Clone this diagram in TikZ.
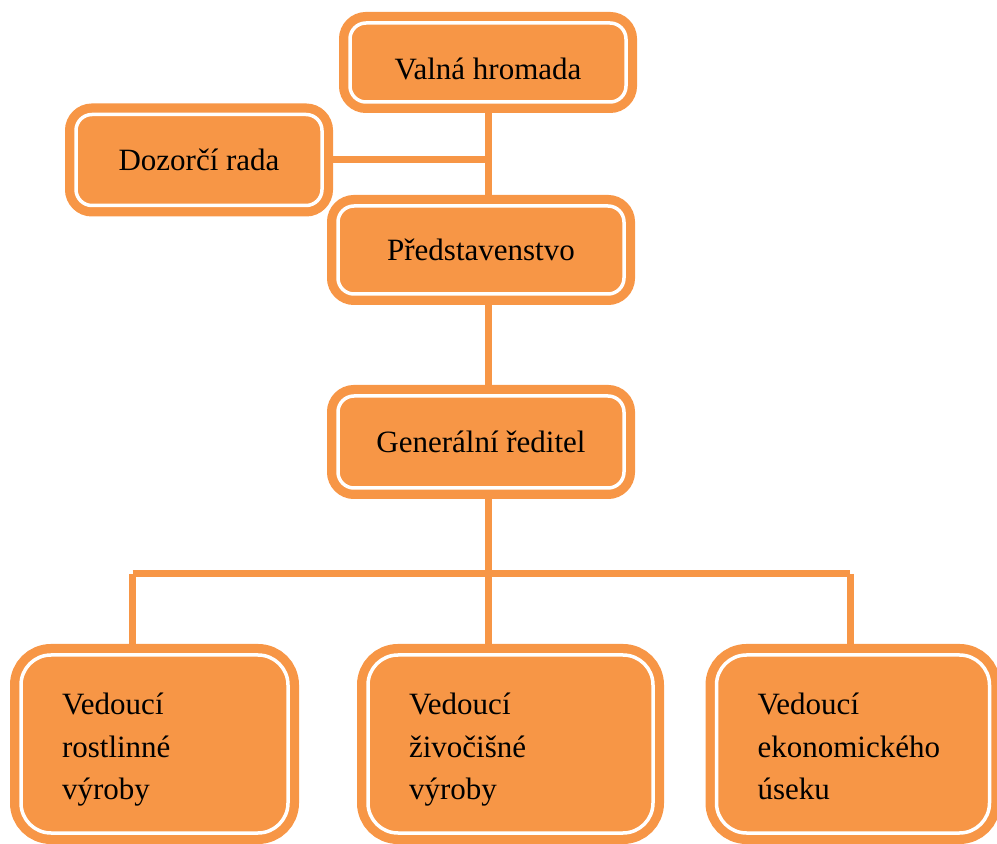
\documentclass[tikz,border=0pt]{standalone}
\usepackage{fontspec}
\setmainfont{Liberation Serif}
\usetikzlibrary{backgrounds}
\definecolor{boxorange}{HTML}{F79646}
\begin{document}
\begin{tikzpicture}[x=0.5pt,y=-0.5pt,
  orgbox/.style={rounded corners=8pt, fill=boxorange, draw=white, line width=1.75pt,
     preaction={draw=boxorange, line width=11pt}, inner sep=0pt,
     font=\fontsize{15.5}{21.25}\selectfont, text=black},
  topbox/.style={orgbox, text height=10.5pt, text depth=0pt},
  botbox/.style={orgbox, rounded corners=15pt, minimum height=89pt, align=left, inner xsep=20.5pt,
     text height=12pt, text depth=41pt},
  conn/.style={draw=boxorange, line width=3.5pt}]
\useasboundingbox (0,0) rectangle (997,844);

\node[topbox, minimum width=138pt, minimum height=39.5pt, text height=17pt] (valna) at (488,62.5) {Valná hromada};
\node[topbox, minimum width=123pt, minimum height=45.5pt] (dozor) at (199,160) {Dozorčí rada};
\node[topbox, minimum width=143pt, minimum height=44pt] (preds) at (481,250) {Představenstvo};
\node[topbox, minimum width=143pt, minimum height=46pt] (gen) at (481,442) {Generální ředitel};

\node[botbox, text width=92.5pt] (left) at (154.5,744) {Vedoucí\\rostlinné\\výroby};
\node[botbox, text width=101.5pt] (mid) at (510.5,744) {Vedoucí\\živočišné\\výroby};
\node[botbox, text width=95.5pt] (right) at (853,744) {Vedoucí\\ekonomického\\úseku};

\coordinate (bm) at (488,574);
\coordinate (bl) at (132.5,574);
\coordinate (br) at (850,574);

\begin{pgfonlayer}{background}
\draw[conn] (valna.south) -- (valna.south |- preds.north);
\draw[conn] (dozor.east) -- (dozor.east -| valna.south);
\draw[conn] (valna.south |- preds.south) -- (valna.south |- gen.north);
\draw[conn] (valna.south |- gen.south) -- (bm);
\draw[conn] (bl) -- (br);
\draw[conn] (bl) -- (bl |- left.north);
\draw[conn] (bm) -- (bm |- mid.north);
\draw[conn] (br) -- (br |- right.north);
\end{pgfonlayer}
\end{tikzpicture}
\end{document}
